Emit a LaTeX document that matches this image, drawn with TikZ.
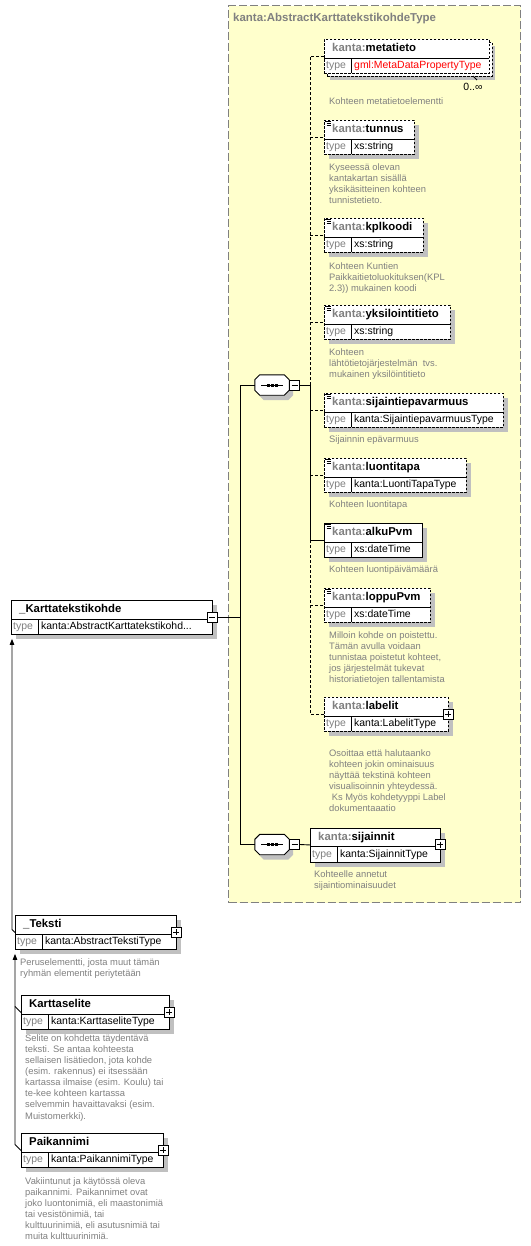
\documentclass[tikz,border=0pt]{standalone}
\usepackage{fontspec}
\setmainfont{Liberation Sans}
\usetikzlibrary{arrows.meta,calc}
\definecolor{kgray}{RGB}{128,128,128}
\definecolor{shadowc}{RGB}{192,192,192}
\definecolor{ybg}{RGB}{255,255,204}
\definecolor{kred}{RGB}{255,0,0}
\definecolor{bordgray}{RGB}{128,128,128}
\tikzset{
 elbox/.style={draw=black, fill=white, line width=0.9bp, minimum height=34bp, inner sep=0pt, anchor=north west},
 dashbox/.style={dash pattern=on 2.5bp off 1.5bp},
 solidbox/.style={solid},
 divline/.style={line width=0.9bp, draw=black},
 nametext/.style={anchor=west, inner sep=0pt, font=\fontsize{11.4}{13}\selectfont\bfseries, text height=8.2bp, text depth=2.2bp},
 typelab/.style={anchor=west, inner sep=0pt, text=kgray, font=\fontsize{10.5}{12}\selectfont, text height=7.6bp, text depth=2.2bp},
 typeval/.style={anchor=west, inner sep=0pt, text=black, font=\fontsize{10.5}{12}\selectfont, text height=7.6bp, text depth=2.2bp},
 desc/.style={anchor=north west, inner sep=0pt, align=left, text=kgray, font=\fontsize{9.4}{11.2}\selectfont},
 pmbox/.style={draw=black, fill=white, line width=0.9bp, minimum size=10bp, inner sep=0pt},
 minusbox/.style={pmbox, path picture={\draw[line width=0.9bp] ([xshift=2bp]path picture bounding box.west) -- ([xshift=-2bp]path picture bounding box.east);}},
 plusbox/.style={pmbox, path picture={\draw[line width=0.9bp] ([xshift=2bp]path picture bounding box.west) -- ([xshift=-2bp]path picture bounding box.east) ([yshift=-2bp]path picture bounding box.north) -- ([yshift=2bp]path picture bounding box.south);}},
 conn/.style={line width=0.9bp, draw=black},
 dconn/.style={conn, dash pattern=on 3bp off 2bp},
 seqbase/.style={minimum width=34bp, minimum height=20bp, inner sep=0pt, draw=none},
 subarrow/.style={conn, -{Triangle[width=4.5bp,length=6bp]}, shorten >=4bp},
}
\newcommand{\xelem}[8]{%
 \begin{scope}[shift={(#2,#3)}]
  \fill[shadowc] (5,5) rectangle (#4+5,39);
  \node[elbox,#5,minimum width=#4bp] (#1) at (0,0) {};
  \draw[divline] (0,19) -- (#4,19) (27,19) -- (27,34);
  \node[nametext] (#1-n) at (8,9.5) {#6};
  \node[typelab] (#1-l) at (2,27) {type};
  \node[typeval] (#1-v) at (30,27) {#7};
  #8
 \end{scope}}
\newcommand{\simpicon}{\draw[line width=0.8bp] (1,1.5) -- (7,1.5) (2.5,3.5) -- (7,3.5) (2.5,5.5) -- (7,5.5);}
\newcommand{\octpath}[1]{([xshift=5bp]#1.north west) -- ([xshift=-5bp]#1.north east) -- ([yshift=-5bp]#1.north east) -- ([yshift=5bp]#1.south east) -- ([xshift=-5bp]#1.south east) -- ([xshift=5bp]#1.south west) -- ([yshift=5bp]#1.south west) -- ([yshift=-5bp]#1.north west) -- cycle}
\newcommand{\seqcomp}[3]{% name, x, y
 \node[seqbase] (#1s) at (#2+4,#3+5) {};
 \fill[shadowc] \octpath{#1s};
 \node[seqbase] (#1) at (#2,#3) {};
 \filldraw[conn, fill=white] \octpath{#1};
 \draw[conn] ([xshift=-11bp]#1.center) -- ([xshift=11bp]#1.center);
 \foreach \dx in {-4,0,4} \fill ([xshift={(\dx-1.5)*1bp}, yshift=1.5bp]#1.center) rectangle ++(3,3);
 \node[minusbox, anchor=west] (#1m) at (#1.east) {};}
\newcommand{\xdesc}[4]{\node[desc] (#1) at (#2,#3) {\strut #4};}
\begin{document}
\begin{tikzpicture}[x=1bp,y=-1bp]
\useasboundingbox (0,0) rectangle (531,1246);
\fill[white] (0,0) rectangle (531,1246);
% complex type background
\node[draw=bordgray, fill=ybg, line width=1bp, dash pattern=on 8bp off 3bp, minimum width=292bp, minimum height=897bp, anchor=north west, inner sep=0pt] (ctype) at (228,5) {};
\node[anchor=west, inner sep=0pt, font=\fontsize{11.5}{13}\selectfont\bfseries, text=kgray] (title) at (233,19) {kanta:AbstractKarttatekstikohdeType};
% metatieto (multiple)
\begin{scope}[shift={(324,39)}]
 \fill[shadowc] (6,7) rectangle (171,41);
 \node[elbox,dashbox,minimum width=165bp] (metatieto-b) at (3,3) {};
 \node[elbox,dashbox,minimum width=165bp] (metatieto) at (0,0) {};
 \draw[divline] (0,19) -- (165,19) (27,19) -- (27,34);
 \node[nametext] (metatieto-n) at (8,9.5) {\textcolor{kgray}{kanta:}metatieto};
 \node[typelab] (metatieto-l) at (2,27) {type};
 \node[typeval] (metatieto-v) at (30,27) {\textcolor{kred}{gml:MetaDataPropertyType}};
 \draw[line width=0.8bp] (149,37) -- (153,41);
\end{scope}
\node[inner sep=0pt, font=\fontsize{10.5}{12}\selectfont] (occ) at (473,87) {0..∞};
\xelem{tunnus}{324}{120}{90}{dashbox}{\textcolor{kgray}{kanta:}tunnus}{xs:string}{\simpicon}
\xelem{kplkoodi}{324}{218}{99}{dashbox}{\textcolor{kgray}{kanta:}kplkoodi}{xs:string}{\simpicon}
\xelem{yksilo}{324}{305}{126}{dashbox}{\textcolor{kgray}{kanta:}yksilointitieto}{xs:string}{\simpicon}
\xelem{sijepa}{324}{393}{179}{dashbox}{\textcolor{kgray}{kanta:}sijaintiepavarmuus}{kanta:SijaintiepavarmuusType}{\simpicon}
\xelem{luonti}{324}{458}{142}{dashbox}{\textcolor{kgray}{kanta:}luontitapa}{kanta:LuontiTapaType}{\simpicon}
\xelem{alku}{324}{523}{98}{solidbox}{\textcolor{kgray}{kanta:}alkuPvm}{xs:dateTime}{\simpicon}
\xelem{loppu}{324}{588}{106}{dashbox}{\textcolor{kgray}{kanta:}loppuPvm}{xs:dateTime}{\simpicon}
\xelem{labelit}{324}{697}{124}{dashbox}{\textcolor{kgray}{kanta:}labelit}{kanta:LabelitType}{\node[plusbox] (labelit-p) at (124,17) {};}
\xelem{sijainnit}{310}{827.5}{130}{solidbox}{\textcolor{kgray}{kanta:}sijainnit}{kanta:SijainnitType}{\node[plusbox] (sijainnit-p) at (130,17) {};}
\xelem{kt}{11}{600}{201}{solidbox}{\_Karttatekstikohde}{kanta:AbstractKarttatekstikohd...}{\node[minusbox] (kt-m) at (201,17) {};}
\xelem{teksti}{15}{915}{161}{solidbox}{\_Teksti}{kanta:AbstractTekstiType}{\node[plusbox] (teksti-p) at (161,17) {};}
\xelem{ksel}{21}{995}{148}{solidbox}{Karttaselite}{kanta:KarttaseliteType}{\node[plusbox] (ksel-p) at (148,17) {};}
\xelem{paik}{21}{1133}{142}{solidbox}{Paikannimi}{kanta:PaikannimiType}{\node[plusbox] (paik-p) at (142,17) {};}
% compositors
\seqcomp{seqa}{272}{385}
\seqcomp{seqb}{272}{844.5}
% connectors in sequence
\coordinate (bus) at (310,385);
\draw[conn] (seqam.east) -- (bus);
\draw[dconn] (bus) -- (bus |- metatieto.west) -- (metatieto.west);
\draw[dconn] (bus |- tunnus.west) -- (tunnus.west);
\draw[dconn] (bus |- kplkoodi.west) -- (kplkoodi.west);
\draw[dconn] (bus |- yksilo.west) -- (yksilo.west);
\draw[dconn] (bus |- sijepa.west) -- (sijepa.west);
\draw[dconn] (bus |- luonti.west) -- (luonti.west);
\draw[conn] (bus) -- (bus |- alku.west) -- (alku.west);
\draw[dconn] (bus |- alku.west) -- (bus |- labelit.west) -- (labelit.west);
\draw[dconn] (bus |- loppu.west) -- (loppu.west);
\draw[conn] (seqbm.east) -- (sijainnit.west);
% left bus
\coordinate (lbus) at (240,617);
\draw[conn] (kt-m.east) -- (lbus);
\draw[conn] (seqa.west) -- (seqa.west -| lbus) -- (seqb.west -| lbus) -- (seqb.west);
% substitution group arrows
\draw[subarrow] (teksti.west) -- ++(-3,-3) coordinate (tj) -- (tj |- kt.south);
\draw[subarrow] (paik.west) -- ++(-6,-6) coordinate (pj) -- (pj |- teksti.south);
\draw[conn] (ksel.west) -- ++(-6,-6);
% descriptions
\xdesc{d-meta}{329}{96}{Kohteen metatietoelementti}
\xdesc{d-tunnus}{329}{162}{Kyseessä olevan\\kantakartan sisällä\\yksikäsitteinen kohteen\\tunnistetieto.}
\xdesc{d-kpl}{329}{261}{Kohteen Kuntien\\Paikkaitietoluokituksen(KPL\\2.3)) mukainen koodi}
\xdesc{d-yks}{329}{347}{Kohteen\\lähtötietojärjestelmän\ \ tvs.\\mukainen yksilöintitieto}
\xdesc{d-sij}{329}{434}{Sijainnin epävarmuus}
\xdesc{d-luo}{329}{499}{Kohteen luontitapa}
\xdesc{d-alku}{329}{564}{Kohteen luontipäivämäärä}
\xdesc{d-loppu}{329}{630}{Milloin kohde on poistettu.\\Tämän avulla voidaan\\tunnistaa poistetut kohteet,\\jos järjestelmät tukevat\\historiatietojen tallentamista}
\xdesc{d-lab}{329}{748}{Osoittaa että halutaanko\\kohteen jokin ominaisuus\\näyttää tekstinä kohteen\\visualisoinnin yhteydessä.\\\hspace*{2.6bp}Ks Myös kohdetyyppi Label\\dokumentaaatio}
\xdesc{d-sijn}{314}{869}{Kohteelle annetut\\sijaintiominaisuudet}
\xdesc{d-teks}{20}{957}{Peruselementti, josta muut tämän\\ryhmän elementit periytetään}
\xdesc{d-ksel}{25}{1033}{Selite on kohdetta täydentävä\\teksti. Se antaa kohteesta\\sellaisen lisätiedon, jota kohde\\(esim. rakennus) ei itsessään\\kartassa ilmaise (esim. Koulu) tai\\te-kee kohteen kartassa\\selvemmin havaittavaksi (esim.\\Muistomerkki).}
\xdesc{d-paik}{25}{1176}{Vakiintunut ja käytössä oleva\\paikannimi. Paikannimet ovat\\joko luontonimiä, eli maastonimiä\\tai vesistönimiä, tai\\kulttuurinimiä, eli asutusnimiä tai\\muita kulttuurinimiä.}
\end{tikzpicture}
\end{document}
